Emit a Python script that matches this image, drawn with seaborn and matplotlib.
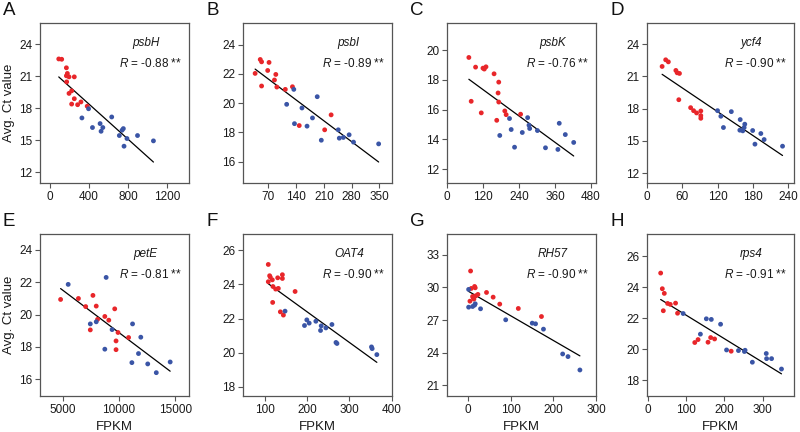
import numpy as np
import pandas as pd
import matplotlib
matplotlib.use("Agg")
import matplotlib.pyplot as plt
import seaborn as sns

sns.set_theme(style="ticks")
plt.rcParams["font.family"] = ["Liberation Sans", "DejaVu Sans"]
plt.rcParams["mathtext.fontset"] = "custom"
plt.rcParams["mathtext.it"] = "Liberation Sans:italic"
plt.rcParams["mathtext.rm"] = "Liberation Sans"

RED = "#e8262a"
BLUE = "#3a55a6"

# ---- data (FPKM, avg Ct) ----
# A psbH
psbH_red_x = [92, 122, 170, 180, 170, 197, 251, 173, 224, 197, 251, 319, 224, 285, 383]
psbH_red_y = [22.63, 22.6, 21.8, 21.27, 21.05, 20.95, 20.95, 20.48, 19.64, 19.4, 18.9, 18.6, 18.4, 18.34, 18.2]
psbH_blue_x = [397, 329, 634, 437, 515, 543, 525, 753, 740, 712, 790, 898, 760, 1061]
psbH_blue_y = [17.96, 17.1, 17.19, 16.2, 16.57, 16.2, 15.85, 16.1, 15.95, 15.45, 15.17, 15.45, 14.45, 14.95]

# B psbI
psbI_red_x = [49.5, 52.9, 71.7, 36.6, 68.3, 88.8, 85.4, 52.9, 91.4, 112.8, 130.8, 228.4, 147.9, 212.1]
psbI_red_y = [22.98, 22.82, 22.78, 22.03, 22.23, 21.96, 21.58, 21.17, 21.1, 20.94, 21.12, 19.2, 18.47, 18.18]
psbI_blue_x = [134.2, 116.2, 154.8, 193.3, 181.3, 135.9, 167.6, 203.6, 246.4, 249, 259.2, 273.8, 284.9, 348.3]
psbI_blue_y = [20.94, 19.92, 19.67, 20.44, 18.99, 18.6, 18.43, 17.47, 18.18, 17.61, 17.66, 17.84, 17.34, 17.22]

# C psbK
psbK_red_x = [72.9, 95.3, 120, 124.4, 130, 157, 172.6, 170.4, 80.7, 114.3, 172.6, 192.8, 197.3, 245.5, 165.9]
psbK_red_y = [19.51, 18.86, 18.79, 18.73, 18.88, 18.41, 17.85, 17.12, 16.56, 15.78, 16.51, 15.91, 15.66, 15.69, 15.28]
psbK_blue_x = [208.5, 269, 273.5, 275.8, 301.6, 214.1, 251.1, 176, 225.3, 328.5, 369.9, 374.4, 394.6, 422.6]
psbK_blue_y = [15.4, 15.46, 14.95, 14.73, 14.59, 14.66, 14.46, 14.26, 13.47, 13.43, 13.32, 15.08, 14.32, 13.79]

# D ycf4
ycf4_red_x = [25.7, 31.8, 36.3, 49.1, 51.3, 55.2, 54.1, 74.2, 79.2, 84.3, 91.5, 91.5, 91.5]
ycf4_red_y = [21.93, 22.55, 22.36, 21.56, 21.34, 21.28, 18.83, 18.09, 17.81, 17.6, 17.78, 17.35, 17.1]
ycf4_blue_x = [120, 125.6, 130, 143.4, 158.5, 157.9, 162.9, 165.2, 166.3, 179.7, 193.6, 183.6, 199.2, 230.5]
ycf4_blue_y = [17.81, 17.29, 16.24, 17.72, 16.98, 15.99, 15.93, 16.24, 16.55, 15.96, 15.68, 14.69, 15.12, 14.5]

# E petE
petE_red_x = [4825, 6404, 7047, 7690, 7982, 8100, 7456, 8743, 9094, 9620, 9912, 9737, 9737, 10848]
petE_red_y = [20.93, 20.99, 20.49, 21.18, 20.52, 19.7, 19.05, 19.88, 19.65, 20.35, 18.89, 18.37, 17.83, 18.58]
petE_blue_x = [5497, 8860, 7456, 7982, 9386, 8743, 11199, 11930, 11725, 11140, 12544, 13302, 14532]
petE_blue_y = [21.86, 22.29, 19.42, 19.55, 19.07, 17.86, 19.42, 18.6, 17.59, 17.03, 16.95, 16.41, 17.07]

# F OAT4
OAT4_red_x = [107.9, 111.1, 112.7, 107.9, 117.5, 119, 125.4, 131.7, 130.2, 141.3, 141.3, 171.4, 118.3, 136.5, 143.7]
OAT4_red_y = [25.16, 24.5, 24.42, 24.15, 24.26, 23.87, 23.72, 23.76, 24.38, 24.56, 24.34, 23.58, 22.94, 22.39, 22.2]
OAT4_blue_x = [147.6, 193.7, 199.2, 204.8, 220.6, 233.3, 231.7, 244.4, 258.7, 268.3, 270.6, 352.4, 354, 365.1]
OAT4_blue_y = [22.43, 21.59, 21.92, 21.73, 21.84, 21.57, 21.3, 21.45, 21.65, 20.6, 20.54, 20.34, 20.24, 19.89]

# G RH57
RH57_red_x = [5.4, 7, 14.8, 16.3, 10.1, 3.9, 11.7, 17.9, 22.6, 42.8, 58.4, 73.9, 117.5, 171.9, 13.2]
RH57_red_y = [31.5, 29.9, 30.08, 29.96, 29.16, 28.73, 29.04, 29.23, 29.35, 29.53, 29.1, 28.46, 28.06, 27.32, 28.92]
RH57_blue_x = [0.8, 0.8, 10.1, 14.8, 16.3, 28.8, 87.9, 150.2, 158, 176.6, 221.7, 234.2, 262.2]
RH57_blue_y = [29.81, 28.18, 28.24, 28.37, 28.49, 28.03, 27.02, 26.71, 26.65, 26.16, 23.88, 23.64, 22.41]

# H rps4
rps4_red_x = [33.7, 38, 43.2, 40.6, 51.9, 58.8, 72.6, 77.8, 122.8, 131.4, 157.4, 164.3, 174.6, 217.9]
rps4_red_y = [24.92, 23.91, 23.61, 22.49, 22.96, 22.9, 22.98, 22.33, 20.44, 20.63, 20.46, 20.76, 20.67, 19.88]
rps4_blue_x = [92.5, 137.5, 153, 166, 190.2, 205.8, 236.9, 252.5, 254.2, 273.2, 309.5, 310.4, 323.4, 349.3]
rps4_blue_y = [22.31, 20.98, 21.97, 21.93, 21.62, 19.96, 19.92, 19.86, 19.94, 19.17, 19.73, 19.4, 19.4, 18.73]

genes = ["psbH", "psbI", "psbK", "ycf4", "petE", "OAT4", "RH57", "rps4"]
letters = ["A", "B", "C", "D", "E", "F", "G", "H"]
r_values = ["-0.88", "-0.89", "-0.76", "-0.90", "-0.81", "-0.90", "-0.90", "-0.91"]
xticks = [[0, 400, 800, 1200], [70, 140, 210, 280, 350], [0, 120, 240, 360, 480], [0, 60, 120, 180, 240],
          [5000, 10000, 15000], [100, 200, 300, 400], [0, 100, 200, 300], [0, 100, 200, 300]]
yticks = [[12, 15, 18, 21, 24], [16, 18, 20, 22, 24], [12, 14, 16, 18, 20], [12, 15, 18, 21, 24],
          [16, 18, 20, 22, 24], [18, 20, 22, 24, 26], [21, 24, 27, 30, 33], [18, 20, 22, 24, 26]]
xlims = [(-100, 1425), (6, 382), (0, 497), (0, 250), (3000, 16200), (48, 401), (-50, 300), (-2, 382)]
ylims = [(11, 26), (14.55, 25.47), (11.06, 21.83), (11.07, 25.98), (14.97, 24.97), (17.47, 26.94), (20.02, 34.9), (16.99, 27.44)]

data = {
    "psbH": (psbH_red_x, psbH_red_y, psbH_blue_x, psbH_blue_y),
    "psbI": (psbI_red_x, psbI_red_y, psbI_blue_x, psbI_blue_y),
    "psbK": (psbK_red_x, psbK_red_y, psbK_blue_x, psbK_blue_y),
    "ycf4": (ycf4_red_x, ycf4_red_y, ycf4_blue_x, ycf4_blue_y),
    "petE": (petE_red_x, petE_red_y, petE_blue_x, petE_blue_y),
    "OAT4": (OAT4_red_x, OAT4_red_y, OAT4_blue_x, OAT4_blue_y),
    "RH57": (RH57_red_x, RH57_red_y, RH57_blue_x, RH57_blue_y),
    "rps4": (rps4_red_x, rps4_red_y, rps4_blue_x, rps4_blue_y),
}

W, H = 800, 432
fig = plt.figure(figsize=(8, 4.32), dpi=100)
col_left = [40, 243, 447, 647]
col_w = [149, 149, 149, 147]
row_top = [23, 234]
row_h = [160, 162]

for i, gene in enumerate(genes):
    r, c = divmod(i, 4)
    left = col_left[c]
    top = row_top[r]
    ax = fig.add_axes([left / W, 1 - (top + row_h[r]) / H, col_w[c] / W, row_h[r] / H])
    rx, ry, bx, by = data[gene]
    df = pd.DataFrame({
        "FPKM": list(rx) + list(bx),
        "Ct": list(ry) + list(by),
        "grp": ["red"] * len(rx) + ["blue"] * len(bx),
    })
    sns.scatterplot(data=df, x="FPKM", y="Ct", hue="grp", palette={"red": RED, "blue": BLUE},
                    s=12, linewidth=0, legend=False, ax=ax, zorder=3)
    sns.regplot(data=df, x="FPKM", y="Ct", scatter=False, ci=None, color="black",
                line_kws={"lw": 0.9}, ax=ax)
    ax.set_xlim(*xlims[i])
    ax.set_ylim(*ylims[i])
    ax.set_xticks(xticks[i])
    ax.set_yticks(yticks[i])
    for sp in ax.spines.values():
        sp.set_color("#555555")
        sp.set_linewidth(0.9)
    ax.tick_params(length=3.5, width=0.8, color="#555555", labelsize=8.5, pad=2, labelcolor="#1a1a1a")
    ax.set_xlabel("FPKM" if r == 1 else "", fontsize=9.5, color="#1a1a1a", labelpad=4)
    ax.set_ylabel("Avg. Ct value" if c == 0 else "", fontsize=9.5, color="#1a1a1a", labelpad=3)
    ax.text(0.71, 0.875, gene, transform=ax.transAxes, ha="center", va="center",
            fontsize=8.5, style="italic", color="#1a1a1a")
    ax.text(0.955, 0.75, r"$\it{R}$ = " + r_values[i] + " **", transform=ax.transAxes,
            ha="right", va="center", fontsize=8.5, color="#1a1a1a")
    fig.text((left - 37) / W, 1 - (top - 21) / H, letters[i], ha="left", va="top",
             fontsize=13.5, color="#111111")

fig.savefig("out.png", dpi=100)
